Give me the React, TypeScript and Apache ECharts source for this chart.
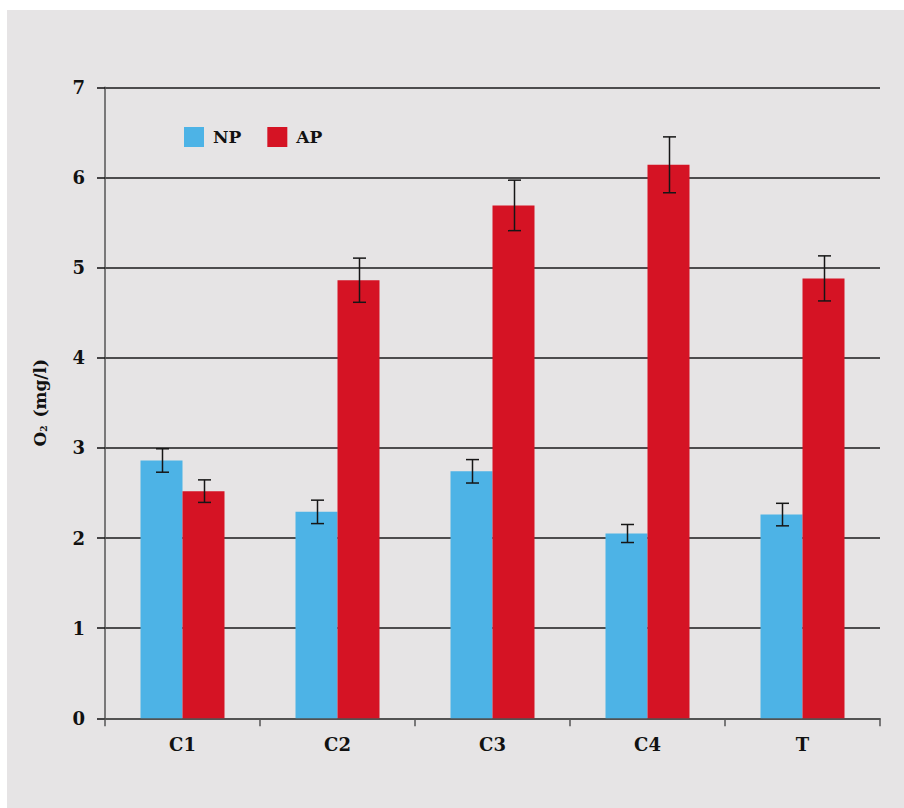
import React, { useEffect, useRef } from "react";
import * as echarts from "echarts";

const categories = ["C1", "C2", "C3", "C4", "T"];
const npValues = [2.86, 2.29, 2.74, 2.05, 2.26];
const apValues = [2.52, 4.86, 5.69, 6.14, 4.88];
const npErrors = [0.13, 0.13, 0.13, 0.1, 0.125];
const apErrors = [0.125, 0.245, 0.28, 0.31, 0.25];
const yTicks = [0, 1, 2, 3, 4, 5, 6, 7];

const FONT = "DejaVu Serif";
const BAR_W = 42;

function errorSeries(name: string, values: number[], errors: number[], offset: number) {
  return {
    name,
    type: "custom",
    z: 10,
    silent: true,
    data: values.map((v, i) => [i, v - errors[i], v + errors[i]]),
    encode: { x: 0, y: [1, 2] },
    renderItem: (params: any, api: any) => {
      const i = api.value(0);
      const lo = api.coord([i, api.value(1)]);
      const hi = api.coord([i, api.value(2)]);
      const cx = Math.round(lo[0] + offset) + 0.5;
      const half = 6.5;
      const style = { stroke: "#161616", lineWidth: 1.5, fill: "none" };
      return {
        type: "group",
        children: [
          { type: "line", shape: { x1: cx, y1: hi[1], x2: cx, y2: lo[1] }, style },
          { type: "line", shape: { x1: cx - half, y1: hi[1], x2: cx + half, y2: hi[1] }, style },
          { type: "line", shape: { x1: cx - half, y1: lo[1], x2: cx + half, y2: lo[1] }, style },
        ],
      };
    },
  };
}

export default function App() {
  const ref = useRef<HTMLDivElement>(null);
  useEffect(() => {
    if (!ref.current) return;
    const chart = echarts.init(ref.current, undefined, { renderer: "svg" });
    chart.setOption({
      animation: false,
      backgroundColor: "#e6e4e5",
      legend: {
        data: ["NP", "AP"],
        left: 172,
        top: 112,
        itemWidth: 20,
        itemHeight: 20,
        itemGap: 26,
        icon: "rect",
        textStyle: {
          fontFamily: FONT,
          fontWeight: "bold",
          fontSize: 17,
          color: "#111",
          padding: [0, 0, 0, 4],
        },
      },
      grid: { left: 98, right: 24, top: 77.3, bottom: 89.7 },
      xAxis: {
        type: "category",
        data: categories,
        axisLine: { show: true, lineStyle: { color: "#555", width: 1.5 } },
        axisTick: { show: true, length: 8, lineStyle: { color: "#555", width: 1.5 } },
        axisLabel: {
          margin: 17,
          fontFamily: FONT,
          fontWeight: "bold",
          fontSize: 18,
          color: "#111",
        },
        splitLine: { show: false },
      },
      yAxis: {
        type: "value",
        min: yTicks[0],
        max: yTicks[yTicks.length - 1],
        interval: 1,
        name: "O{sub|2} (mg/l)",
        nameLocation: "middle",
        nameGap: 57,
        nameTextStyle: {
          fontFamily: FONT,
          fontWeight: "bold",
          fontSize: 17,
          color: "#111",
          rich: {
            sub: {
              fontFamily: FONT,
              fontWeight: "bold",
              fontSize: 9,
              color: "#111",
              verticalAlign: "bottom",
              padding: [8, 2, 0, 0],
            },
          },
        },
        axisLine: { show: true, lineStyle: { color: "#555", width: 1.5 } },
        axisTick: { show: true, length: 8, lineStyle: { color: "#111", width: 1.5 } },
        axisLabel: {
          margin: 20,
          fontFamily: FONT,
          fontWeight: "bold",
          fontSize: 18,
          color: "#111",
        },
        splitLine: { show: true, lineStyle: { color: "#1a1a1a", width: 1.5 } },
      },
      series: [
        {
          name: "NP",
          type: "bar",
          data: npValues,
          barWidth: BAR_W,
          barGap: "0%",
          itemStyle: { color: "#4db3e6" },
        },
        {
          name: "AP",
          type: "bar",
          data: apValues,
          barWidth: BAR_W,
          barGap: "0%",
          itemStyle: { color: "#d51324" },
        },
        errorSeries("NP err", npValues, npErrors, -BAR_W / 2),
        errorSeries("AP err", apValues, apErrors, BAR_W / 2),
      ],
    });
    return () => chart.dispose();
  }, []);
  return (
    <div style={{ position: "absolute", left: 0, top: 0, width: 904, height: 808, background: "#fff" }}>
      <div ref={ref} style={{ position: "absolute", left: 7, top: 10, width: 897, height: 798 }} />
    </div>
  );
}
